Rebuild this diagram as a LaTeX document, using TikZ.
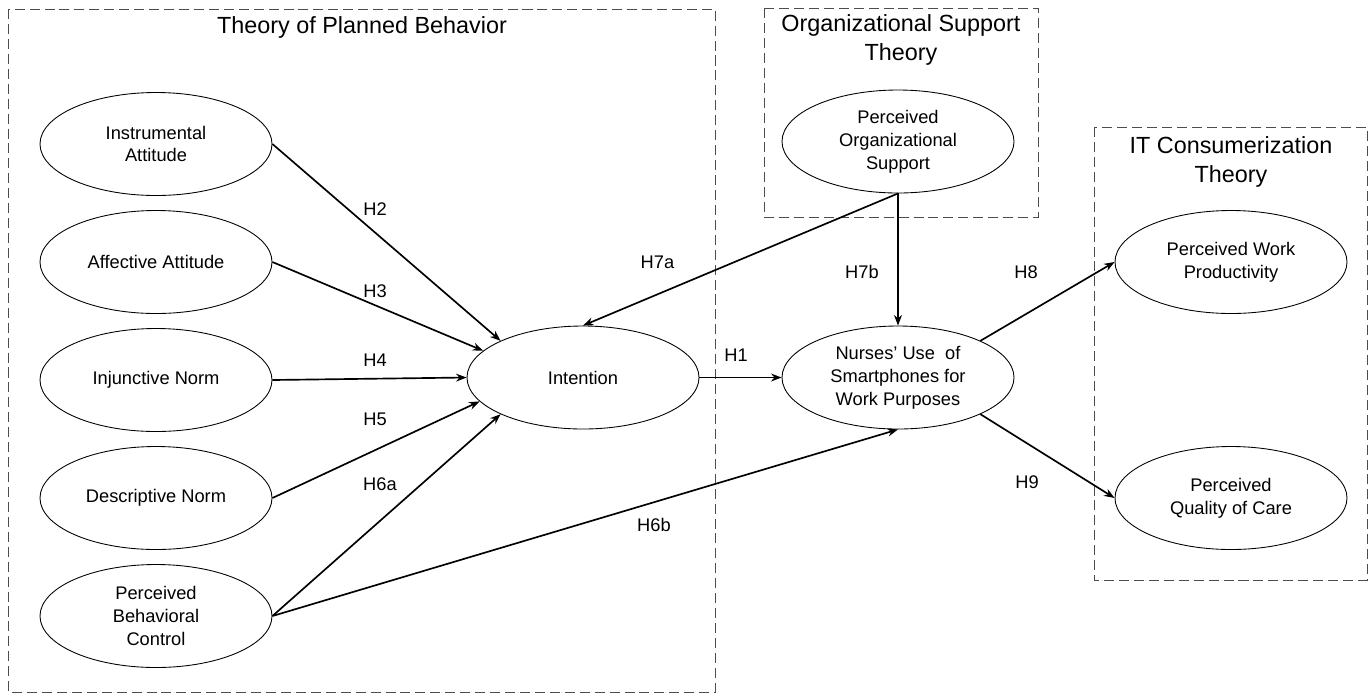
\documentclass[tikz,border=0pt]{standalone}
\usepackage{fontspec}
\setmainfont{Liberation Sans}
\usetikzlibrary{shapes.geometric,arrows.meta}
\newcommand{\boxcol}{black!70}

\begin{document}
\begin{tikzpicture}[x=2cm, y=2cm,
    construct/.style={draw, ellipse, line width=0.5pt, minimum width=4.64cm,
      minimum height=2.06cm, inner sep=0pt, align=center,
      font=\fontsize{10.4}{13}\selectfont},
    hyp/.style={-{Stealth[length=6pt,width=4.5pt]}, line width=0.95pt},
    hlabel/.style={font=\fontsize{10.4}{12}\selectfont},
    theory/.style={align=center, font=\fontsize{13.3}{16}\selectfont},
    frame/.style={draw=\boxcol, line width=0.5pt, dash pattern=on 5.7pt off 2.8pt}]

    \useasboundingbox (0, 0) rectangle (13.71, -6.95);

    % cadres des theories
    \draw[frame] (0.08, -0.09) rectangle (7.15, -6.92);
    \draw[frame] (7.64, -0.08) rectangle (10.38, -2.17);
    \draw[frame] (10.94, -1.27) rectangle (13.67, -5.80);

    \node[theory] (tpb) at (3.62, -0.27) {Theory of Planned Behavior};
    \node[theory] (ost) at (9.01, -0.40) {Organizational Support\\Theory};
    \node[theory] (itc) at (12.31, -1.62) {IT Consumerization\\Theory};

    % construits
    \node[construct] (ia) at (1.56, -1.44) {Instrumental\\Attitude};
    \node[construct] (aa) at (1.56, -2.62) {Affective Attitude};
    \node[construct] (inj) at (1.56, -3.80) {Injunctive Norm};
    \node[construct] (desc) at (1.56, -4.98) {Descriptive Norm};
    \node[construct] (pbc) at (1.56, -6.16) {Perceived\\Behavioral\\Control};

    \node[construct] (int) at (5.83, -3.775) {Intention};

    \node[construct] (pos) at (8.98, -1.415) {Perceived\\Organizational\\Support};
    \node[construct] (use) at (8.98, -3.775) {Nurses’ Use~ of\\Smartphones for\\Work Purposes};

    \node[construct] (pwp) at (12.31, -2.62) {Perceived Work\\Productivity};
    \node[construct] (pqc) at (12.31, -4.98) {Perceived\\Quality of Care};

    % hypotheses
    \draw[hyp] (ia.east) -- (int.156);
    \draw[hyp] (aa.east) -- (int.165);
    \draw[hyp] (inj.east) -- (int.west);
    \draw[hyp] (desc.east) -- (int.193);
    \draw[hyp] (pbc.east) -- (int.204);
    \draw[hyp] (pbc.east) -- (use.south);
    \draw[hyp] (pos.south) -- (int.north);
    \draw[hyp] (pos.south) -- (use.north);
    \draw[hyp] (int.east) -- (use.west);
    \draw[hyp] (use.24) -- (pwp.west);
    \draw[hyp] (use.336) -- (pqc.west);

    \node[hlabel] (h2) at (3.75, -2.09) {H2};
    \node[hlabel] (h3) at (3.75, -2.91) {H3};
    \node[hlabel] (h4) at (3.75, -3.60) {H4};
    \node[hlabel] (h5) at (3.75, -4.19) {H5};
    \node[hlabel] (h6a) at (3.80, -4.84) {H6a};
    \node[hlabel] (h6b) at (6.54, -5.25) {H6b};
    \node[hlabel] (h7a) at (6.575, -2.62) {H7a};
    \node[hlabel] (h7b) at (8.62, -2.72) {H7b};
    \node[hlabel] (h1) at (7.36, -3.55) {H1};
    \node[hlabel] (h8) at (10.26, -2.72) {H8};
    \node[hlabel] (h9) at (10.27, -4.82) {H9};

\end{tikzpicture}
\end{document}
